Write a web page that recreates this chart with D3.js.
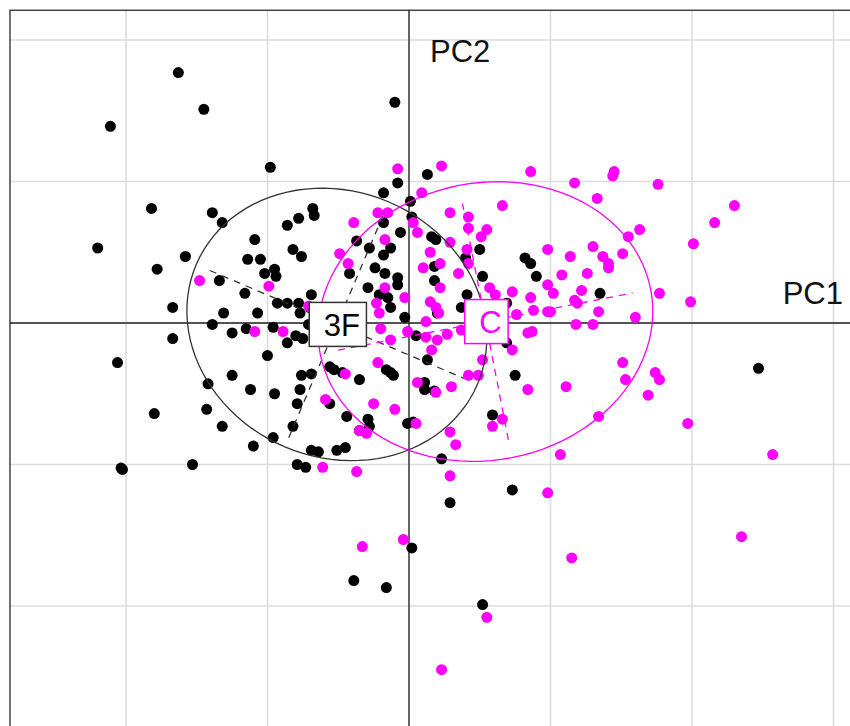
<!DOCTYPE html>
<html>
<head>
<meta charset="utf-8">
<script src="https://cdn.jsdelivr.net/npm/d3@7"></script>
<style>
html,body{margin:0;padding:0;background:#fff;}
svg{display:block;}
</style>
</head>
<body>
<svg id="chart" width="850" height="726"></svg>
<script>
// ---- data ----
const categories = ["3F", "C"];
const colors = ["#000000", "#ff00ff"];

const x3F = [-1.63,-1.45,-2.11,-0.10,-0.98,-1.82,-1.39,-1.32,-0.86,-0.78,-0.68,-0.67,-1.09,-0.08,-0.18,0.01,0.02,-0.18,-0.06,-0.37,
0.13,-2.20,-1.58,-1.78,-1.67,-1.67,-2.06,-1.80,-1.43,-1.42,-1.32,-1.10,-2.035,-2.025,-1.53,-0.96,-1.25,-1.12,-0.95,-1.39,
-1.31,-1.25,-1.15,-1.07,-0.96,-1.34,-1.16,-1.14,-1.05,-1.02,-0.95,-0.94,-0.82,-0.76,-0.93,-0.86,-0.78,-0.77,-0.69,-0.71,
-0.86,-0.80,-0.75,-1.00,-0.76,-0.69,-0.77,-0.79,-0.82,-0.69,-0.64,-0.51,-0.45,-0.79,-0.73,-0.56,-0.53,-0.47,-0.35,-0.44,
-0.29,-0.28,-0.35,-0.01,0.03,-0.16,-0.13,-0.11,0.05,0.13,-0.03,-0.13,-0.21,-0.15,-0.29,-0.08,-0.08,-0.24,-0.17,-0.42,
-0.28,-0.13,-0.18,0.16,0.19,0.50,0.40,0.18,0.18,0.52,0.41,0.37,0.82,0.86,0.90,0.69,0.20,1.35,0.69,0.75,
2.47,-0.56,0.11,0.11,0.18,0.59,0.23,0.73,0.29,0.02,-0.39,-0.16,0.52];
const y3F = [1.77,1.51,1.39,1.56,1.10,0.81,0.78,0.71,0.69,0.74,0.81,0.76,0.59,0.99,0.92,0.86,0.75,0.71,0.64,0.58,
1.05,0.53,0.47,0.38,0.11,-0.11,-0.28,-0.64,-0.61,-0.43,-0.73,-0.87,-1.025,-1.035,-1.00,-0.81,-0.37,-0.47,-0.50,-0.01,
0.07,-0.07,-0.04,0.07,-0.03,0.30,0.21,0.45,0.45,0.35,0.38,0.33,0.52,0.47,0.14,0.14,0.14,0.07,0.20,-0.01,
-0.14,-0.09,-0.11,-0.23,-0.37,-0.36,-0.47,-0.57,-0.73,-0.90,-0.91,-0.90,-0.88,-1.00,-1.02,-0.31,-0.33,-0.35,-0.40,-0.66,
-0.68,-0.73,-0.76,-0.71,-0.70,-0.33,-0.35,-0.37,-0.09,-0.26,0.04,0.11,0.20,0.18,0.25,0.32,0.27,0.39,0.35,0.35,
0.53,0.53,0.48,0.61,0.59,0.52,0.46,0.40,0.30,0.33,0.20,0.11,0.46,0.42,0.33,0.14,0.07,0.21,-0.14,-0.37,
-0.32,-0.57,-0.42,-0.47,-0.48,-0.65,-0.96,-1.18,-1.27,-1.59,-1.82,-1.87,-1.99];

const xC = [-0.08,0.23,0.86,1.17,1.45,1.44,1.76,1.33,0.66,0.29,0.42,0.42,0.55,0.51,1.55,1.63,2.16,2.30,0.09,-0.22,
-0.15,-0.39,0.03,0.06,-0.17,-0.49,-0.43,0.29,0.15,0.22,0.10,0.41,0.42,0.35,0.57,0.61,0.73,0.22,-0.17,-0.23,
-0.21,-0.03,0.15,0.19,0.21,0.12,0.86,0.88,0.76,2.01,0.98,1.30,1.14,1.37,1.41,1.41,1.51,1.08,1.26,0.98,
1.02,1.22,1.17,1.19,0.98,1.00,1.34,1.77,1.99,1.60,1.18,1.30,0.84,0.87,0.73,1.51,1.74,1.77,1.53,1.11,
0.84,1.69,0.66,1.34,1.97,1.07,2.57,-1.48,-0.99,-1.09,-0.89,-0.71,-0.20,-0.13,-0.01,0.12,0.20,0.27,0.16,0.37,
-0.22,-0.45,0.52,0.42,0.49,0.30,0.06,0.19,-0.59,-0.25,-0.10,0.05,0.59,-0.35,-0.30,0.29,0.33,0.29,-0.61,-0.37,
0.98,-0.04,-0.33,1.15,2.35,0.55,0.23];
const yC = [1.09,1.11,1.07,0.99,1.07,1.04,0.98,0.88,0.83,0.78,0.75,0.67,0.66,0.61,0.61,0.66,0.71,0.83,0.92,0.78,
0.78,0.71,0.71,0.64,0.59,0.49,0.42,0.57,0.50,0.42,0.39,0.52,0.42,0.35,0.25,0.20,0.22,0.25,0.25,0.14,
0.07,0.18,0.15,0.11,0.07,0.01,0.18,0.09,0.06,0.56,0.52,0.54,0.47,0.47,0.42,0.39,0.49,0.34,0.35,0.27,
0.21,0.23,0.16,0.14,0.08,0.08,0.08,0.21,0.15,0.04,-0.01,-0.01,-0.07,-0.06,-0.19,-0.28,-0.35,-0.40,-0.40,-0.45,
-0.47,-0.51,-0.68,-0.66,-0.71,-0.93,-0.93,0.30,0.26,-0.06,-0.06,0.12,-0.04,-0.12,-0.06,-0.10,-0.12,-0.08,-0.19,-0.05,
-0.28,-0.36,-0.26,-0.37,-0.37,-0.45,-0.42,-0.49,-0.54,-0.57,-0.61,-0.71,-0.73,-0.76,-0.78,-0.77,-0.86,-1.08,-1.02,-1.05,
-1.20,-1.53,-1.58,-1.66,-1.51,-2.08,-2.45];

// class ellipse statistics: centre, semi-axes, rotation (deg), drawn axis half-lengths
const ellCx = [-0.51, 0.54];
const ellCy = [-0.01, 0.01];
const ellA = [1.08, 1.19];
const ellB = [0.94, 0.98];
const ellAngle = [-23, 11];
const axisA = [0.975, 1.06];
const axisB = [0.87, 0.85];

const gridX = [-2, -1, 0, 1, 2, 3];
const gridY = [-2, -1, 0, 1, 2];
const frameX = [-2.82, 3.16];
const frameY = [-2.96, 2.21];
const axisLabels = ["PC1", "PC2"];

// ---- drawing ----
const svg = d3.select("#chart");
const unit = 141.5, ox = 409, oy = 323;
const x = d3.scaleLinear().domain([-3, 3]).range([ox - 3 * unit, ox + 3 * unit]);
const y = d3.scaleLinear().domain([-3, 3]).range([oy + 3 * unit, oy - 3 * unit]);

const font = "'Liberation Sans', Arial, Helvetica, sans-serif";

// grid
const g = svg.append("g");
g.selectAll("line.gx").data(gridX).join("line")
  .attr("x1", d => x(d)).attr("x2", d => x(d))
  .attr("y1", y(frameY[1])).attr("y2", y(frameY[0]))
  .attr("stroke", "#dcdcdc").attr("stroke-width", 1.6);
g.selectAll("line.gy").data(gridY).join("line")
  .attr("y1", d => y(d)).attr("y2", d => y(d))
  .attr("x1", x(frameX[0])).attr("x2", x(frameX[1]))
  .attr("stroke", "#dcdcdc").attr("stroke-width", 1.6);

// frame
svg.append("rect")
  .attr("x", x(frameX[0])).attr("y", y(frameY[1]))
  .attr("width", x(frameX[1]) - x(frameX[0]))
  .attr("height", y(frameY[0]) - y(frameY[1]))
  .attr("fill", "none").attr("stroke", "#444").attr("stroke-width", 1.5);

// axes through origin
svg.append("line").attr("x1", x(frameX[0])).attr("x2", x(frameX[1]))
  .attr("y1", y(0)).attr("y2", y(0)).attr("stroke", "#222").attr("stroke-width", 1.3);
svg.append("line").attr("x1", x(0)).attr("x2", x(0))
  .attr("y1", y(frameY[1])).attr("y2", y(frameY[0])).attr("stroke", "#222").attr("stroke-width", 1.3);

// points
const groups = [
  {xs: x3F, ys: y3F, col: colors[0]},
  {xs: xC, ys: yC, col: colors[1]}
];
groups.forEach(gr => {
  const pts = gr.xs.map((v, i) => [v, gr.ys[i]]);
  svg.append("g").selectAll("circle").data(pts).join("circle")
    .attr("cx", d => x(d[0])).attr("cy", d => y(d[1]))
    .attr("r", 5.5).attr("fill", gr.col);
});

// ellipses + axes
categories.forEach((cat, k) => {
  const th = ellAngle[k] * Math.PI / 180;
  const ts = d3.range(0, 101).map(i => i / 100 * 2 * Math.PI);
  const pts = ts.map(t => {
    const ex = ellA[k] * Math.cos(t), ey = ellB[k] * Math.sin(t);
    return [x(ellCx[k] + ex * Math.cos(th) - ey * Math.sin(th)),
            y(ellCy[k] + ex * Math.sin(th) + ey * Math.cos(th))];
  });
  svg.append("path").attr("d", d3.line()(pts))
    .attr("fill", "none").attr("stroke", k === 0 ? "#333" : colors[1]).attr("stroke-width", 1.3);
  const ca = Math.cos(th), sa = Math.sin(th);
  const segs = [
    [[ellCx[k] - axisA[k] * ca, ellCy[k] - axisA[k] * sa], [ellCx[k] + axisA[k] * ca, ellCy[k] + axisA[k] * sa]],
    [[ellCx[k] + axisB[k] * sa, ellCy[k] - axisB[k] * ca], [ellCx[k] - axisB[k] * sa, ellCy[k] + axisB[k] * ca]]
  ];
  segs.forEach(s => {
    svg.append("line")
      .attr("x1", x(s[0][0])).attr("y1", y(s[0][1]))
      .attr("x2", x(s[1][0])).attr("y2", y(s[1][1]))
      .attr("stroke", k === 0 ? "#333" : colors[1]).attr("stroke-width", 1.3)
      .attr("stroke-dasharray", "7,6");
  });
});

// class labels
categories.forEach((cat, k) => {
  const cx = x(ellCx[k]), cy = y(ellCy[k]);
  const lg = svg.append("g");
  const rect = lg.append("rect");
  const t = lg.append("text").text(cat)
    .attr("font-family", font).attr("font-size", 31)
    .attr("fill", k === 0 ? "#000" : colors[1])
    .attr("text-anchor", "middle")
    .attr("x", cx + 5).attr("y", cy + 11.5);
  const w = t.node().getComputedTextLength() + 21;
  rect.attr("x", cx - w / 2 + 1).attr("y", cy - 22).attr("width", w).attr("height", 44)
    .attr("fill", "#fff").attr("stroke", k === 0 ? "#333" : colors[1]).attr("stroke-width", 1.5);
});

// axis labels
svg.append("text").text(axisLabels[0])
  .attr("font-family", font).attr("font-size", 31).attr("fill", "#111")
  .attr("text-anchor", "end").attr("x", 843).attr("y", y(0) - 19);
svg.append("text").text(axisLabels[1])
  .attr("font-family", font).attr("font-size", 31).attr("fill", "#111")
  .attr("x", x(0) + 21).attr("y", y(frameY[1]) + 52);
</script>
</body>
</html>
